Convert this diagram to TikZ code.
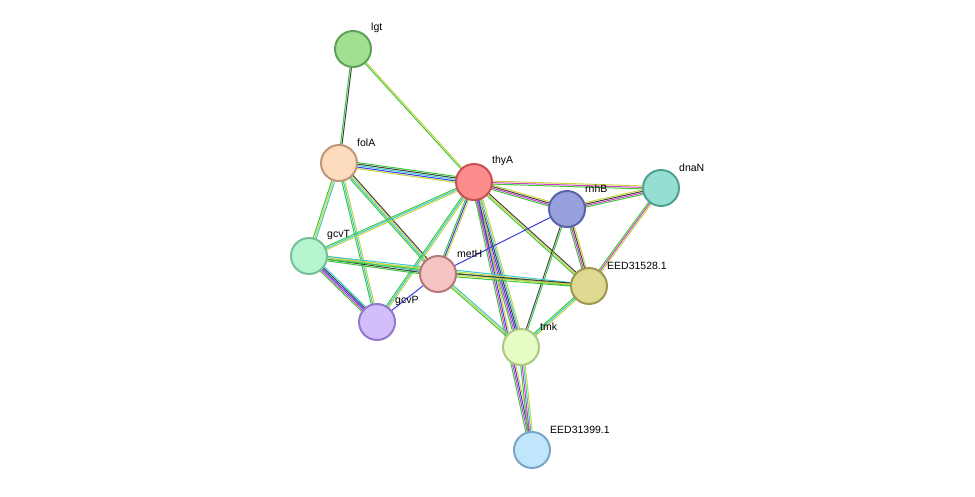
\documentclass[tikz,border=0pt]{standalone}
\usepackage{fontspec}
\setmainfont{Liberation Sans}
\usetikzlibrary{calc}
\definecolor{scg}{HTML}{3CC83C}
\definecolor{scy}{HTML}{C8D23C}
\definecolor{scc}{HTML}{3CC8D2}
\definecolor{scm}{HTML}{D23CC8}
\definecolor{scb}{HTML}{3C3CE6}
\definecolor{sck}{HTML}{404040}
\tikzset{prot/.style={circle,minimum size=36pt,inner sep=0pt,line width=2pt},
lab/.style={font=\fontsize{10.5}{12}\selectfont,anchor=south west,inner sep=1pt}}
\newcommand{\edge}[3]{% a b colors
 \foreach \c [count=\i] in {#3}{\xdef\nn{\i}}
 \foreach \c [count=\i] in {#3}{
  \pgfmathsetmacro\o{(\i-(\nn+1)/2)*1.5}
  \draw[draw=sc\c,line width=1pt] ($(#1)!\o pt!90:(#2)$) -- ($(#2)!\o pt!-90:(#1)$);}}
\begin{document}
\begin{tikzpicture}[x=1pt,y=-1pt]
\useasboundingbox (0,0) rectangle (975,496);
\coordinate (lgt) at (353,49);
\coordinate (folA) at (339,163);
\coordinate (thyA) at (474,182);
\coordinate (rnhB) at (567,209);
\coordinate (dnaN) at (661,188);
\coordinate (gcvT) at (309,256);
\coordinate (metH) at (438,274);
\coordinate (E28) at (589,286);
\coordinate (gcvP) at (377,322);
\coordinate (tmk) at (521,347);
\coordinate (E99) at (532,450);
\edge{lgt}{folA}{g,k}
\edge{lgt}{thyA}{g,y}
\edge{folA}{thyA}{y,b,c,k,g}
\edge{folA}{gcvT}{g,y,c}
\edge{folA}{metH}{g,c,y,k}
\edge{folA}{gcvP}{g,c,y}
\edge{thyA}{rnhB}{g,m,k,y}
\edge{thyA}{dnaN}{g,m,y}
\edge{thyA}{gcvT}{g,c,y}
\edge{thyA}{metH}{g,b,y}
\edge{thyA}{gcvP}{g,c,y}
\edge{thyA}{E28}{g,y,k}
\edge{thyA}{tmk}{g,m,b,k,c,y}
\edge{thyA}{E99}{g,m,b,y}
\edge{rnhB}{dnaN}{g,m,k,y}
\edge{rnhB}{E28}{g,m,k,y}
\edge{rnhB}{tmk}{k,g}
\edge{rnhB}{metH}{b}
\edge{dnaN}{E28}{g,m,y}
\edge{gcvT}{metH}{g,k,c,y}
\edge{gcvT}{gcvP}{g,m,b,k,c}
\edge{gcvT}{E28}{g,y,c}
\edge{metH}{gcvP}{b}
\edge{metH}{E28}{g,y,k}
\edge{metH}{tmk}{g,y,c}
\edge{E28}{tmk}{g,c,y}
\edge{tmk}{E99}{g,m,c,y}
\node[prot,fill={rgb,255:red,160;green,224;blue,144},draw={rgb,255:red,96;green,160;blue,88}] (nlgt) at (lgt) {};
\node[prot,fill={rgb,255:red,252;green,220;blue,188},draw={rgb,255:red,192;green,150;blue,120}] (nfolA) at (folA) {};
\node[prot,fill={rgb,255:red,252;green,140;blue,140},draw={rgb,255:red,200;green,80;blue,80}] (nthyA) at (thyA) {};
\node[prot,fill={rgb,255:red,152;green,160;blue,222},draw={rgb,255:red,90;green,100;blue,170}] (nrnhB) at (rnhB) {};
\node[prot,fill={rgb,255:red,148;green,222;blue,210},draw={rgb,255:red,80;green,160;blue,150}] (ndnaN) at (dnaN) {};
\node[prot,fill={rgb,255:red,180;green,244;blue,206},draw={rgb,255:red,120;green,190;blue,150}] (ngcvT) at (gcvT) {};
\node[prot,fill={rgb,255:red,246;green,196;blue,196},draw={rgb,255:red,180;green,120;blue,120}] (nmetH) at (metH) {};
\node[prot,fill={rgb,255:red,222;green,218;blue,146},draw={rgb,255:red,160;green,150;blue,80}] (nE28) at (E28) {};
\node[prot,fill={rgb,255:red,210;green,190;blue,250},draw={rgb,255:red,150;green,120;blue,200}] (ngcvP) at (gcvP) {};
\node[prot,fill={rgb,255:red,230;green,252;blue,196},draw={rgb,255:red,170;green,200;blue,130}] (ntmk) at (tmk) {};
\node[prot,fill={rgb,255:red,192;green,230;blue,252},draw={rgb,255:red,120;green,165;blue,200}] (nE99) at (E99) {};
\node[lab] at (370,34) {lgt};
\node[lab] at (356,148) {folA};
\node[lab] at (491,167) {thyA};
\node[lab] at (584,194) {rnhB};
\node[lab] at (678,173) {dnaN};
\node[lab] at (326,241) {gcvT};
\node[lab] at (456,259) {metH};
\node[lab] at (606,271) {EED31528.1};
\node[lab] at (394,307) {gcvP};
\node[lab] at (539,332) {tmk};
\node[lab] at (549,435) {EED31399.1};
\end{tikzpicture}
\end{document}
